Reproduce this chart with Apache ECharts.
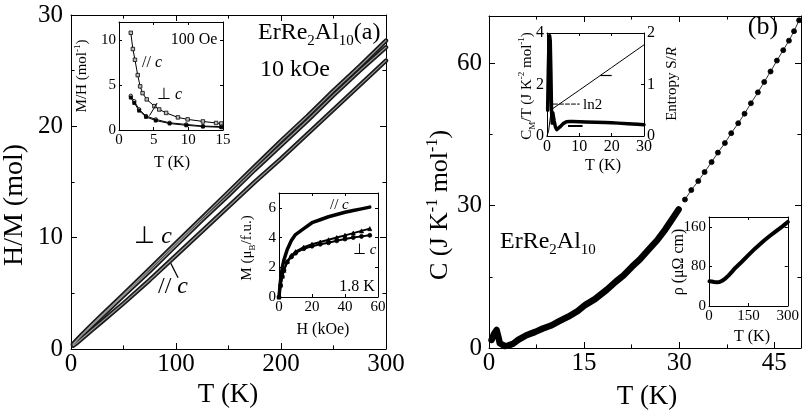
<!DOCTYPE html>
<html><head><meta charset="utf-8">
<script src="https://cdn.jsdelivr.net/npm/echarts@6/dist/echarts.min.js"></script>
<style>html,body{margin:0;padding:0;background:#fff}#c{width:802px;height:419px}</style>
</head><body><div id="c"></div>
<script>
// ---------- Panel (a) main: H/M vs T (10 kOe) ----------
const T_a = [2, 5, 10, 20, 30, 40, 50, 75, 100, 125, 150, 175, 200, 225, 250, 275, 300];
const HM_perp1 = [0.45, 0.75, 1.25, 2.2, 3.1, 4.0, 4.9, 7.2, 9.5, 11.8, 14.1, 16.4, 18.7, 20.9, 23.2, 25.4, 27.7];
const HM_perp2 = [0.42, 0.7, 1.2, 2.1, 3.0, 3.9, 4.8, 7.0, 9.3, 11.6, 13.8, 16.1, 18.3, 20.5, 22.8, 25.0, 27.1];
const HM_par   = [0.3, 0.5, 0.9, 1.7, 2.5, 3.3, 4.1, 6.2, 8.4, 10.6, 12.8, 15.0, 17.1, 19.3, 21.5, 23.7, 25.9];
// ---------- Inset a1: M/H vs T (100 Oe) ----------
const T_a1_par = [1.7, 2.0, 2.3, 2.7, 3.05, 3.4, 4.0, 5.1, 5.8, 6.8, 8.5, 9.9, 12.1, 14.0, 14.75];
const MH_par   = [10.8, 9.0, 7.8, 6.1, 4.85, 4.1, 3.4, 2.65, 2.28, 1.9, 1.4, 1.18, 0.95, 0.78, 0.72];
const T_a1_perp = [1.7, 2.2, 2.9, 3.9, 5.3, 7.3, 9.7, 12.1, 14.75];
const MH_perp1 = [3.8, 3.2, 2.3, 1.55, 1.18, 0.8, 0.62, 0.44, 0.37];
const MH_perp2 = [3.6, 3.0, 2.15, 1.45, 1.05, 0.72, 0.52, 0.38, 0.3];
// ---------- Inset a2: M vs H (1.8 K) ----------
const H_a2 = [0, 1, 2, 3, 5, 7.5, 10, 15, 20, 25, 30, 35, 40, 45, 50, 55];
const M_par   = [0, 1.2, 2.0, 2.5, 3.2, 3.8, 4.2, 4.6, 5.0, 5.2, 5.4, 5.55, 5.7, 5.82, 5.93, 6.05];
const M_perpA = [0, 0.8, 1.4, 1.8, 2.4, 2.8, 3.05, 3.35, 3.55, 3.7, 3.85, 4.0, 4.15, 4.3, 4.45, 4.6];
const M_perpB = [0, 0.8, 1.4, 1.8, 2.35, 2.7, 2.95, 3.25, 3.42, 3.55, 3.65, 3.78, 3.9, 4.0, 4.08, 4.15];
// ---------- Panel (b) main: C vs T ----------
const T_b_dense = [0.4, 0.8, 1.2, 1.5, 1.7, 2.0, 2.5, 3.0, 3.8, 4.6, 5.9, 7.3, 8.5, 9.9, 11, 12.5, 14, 15.2, 16.7, 18.6, 20, 21.2, 22.6, 23.8, 25.2, 26.5, 27.8, 28.6, 29.9];
const C_b_dense = [1.7, 3.0, 3.8, 2.2, 1.0, 0.6, 0.4, 0.5, 0.9, 1.7, 2.7, 3.4, 4.1, 4.8, 5.6, 6.6, 7.8, 9.1, 10.3, 12.3, 14.0, 15.3, 17.2, 18.7, 20.8, 22.7, 25.0, 26.6, 29.2];
const T_b_dots = [30.9, 31.9, 33.0, 34.0, 35.1, 36.1, 37.2, 38.2, 39.3, 40.3, 41.3, 42.4, 43.4, 44.4, 45.4, 46.4, 47.3, 48.1, 48.9];
const C_b_dots = [31.3, 33.3, 35.2, 37.1, 39.2, 41.2, 43.2, 45.3, 47.4, 49.4, 51.6, 53.9, 56.1, 58.3, 60.6, 62.8, 64.8, 66.8, 69.1];
// ---------- Inset b1: C_M/T and entropy ----------
const T_b1 = [0.2, 0.4, 0.6, 0.8, 1.0, 1.2, 1.4, 1.6, 1.8, 2.2, 2.6, 3.0, 3.5, 4, 5, 6, 7, 8, 10, 12, 15, 18, 20, 22, 25, 28, 30];
const CmT  = [1.0, 2.5, 3.6, 3.9, 3.7, 2.5, 1.0, 0.5, 0.9, 0.6, 0.35, 0.25, 0.28, 0.35, 0.48, 0.55, 0.56, 0.56, 0.55, 0.54, 0.53, 0.52, 0.51, 0.5, 0.48, 0.46, 0.44];
const T_S  = [0, 0.5, 1.0, 1.5, 10, 20, 30];
const S_R  = [0, 0.1, 0.35, 0.52, 0.89, 1.33, 1.77];
const T_ln2 = [2, 10];
const S_ln2 = [0.62, 0.62];
// ---------- Inset b2: resistivity ----------
const T_rho = [2, 10, 20, 30, 40, 50, 63, 75, 87, 100, 124, 150, 175, 209, 230, 257, 280, 300];
const RHO   = [50, 49.5, 48.5, 48, 48.5, 51, 56, 62, 69, 77, 89, 103, 116, 132, 141, 152, 161, 170];

const F = '"Liberation Serif","Times New Roman",serif';
const zip = (a, b) => a.map((v, i) => [v, b[i]]);

const grids = [
  {left: 71, top: 15, width: 315, height: 334},
  {left: 119, top: 22, width: 104, height: 108},
  {left: 279, top: 193, width: 99, height: 104},
  {left: 489, top: 16, width: 312, height: 332},
  {left: 547, top: 33, width: 97, height: 103},
  {left: 709, top: 217, width: 83, height: 89}
];
const xAxes = [], yAxes = [];
function ax(gi, pos, r, o, showLabel, margin) {
  return {gridIndex: gi, type: 'value', position: pos, min: r.min, max: r.max, interval: r.interval,
    axisLine: {show: true, onZero: false, lineStyle: {color: '#000', width: 1}},
    axisTick: {show: true, inside: true, length: o.tick, lineStyle: {color: '#000', width: 1}},
    minorTick: {show: !!r.minor, splitNumber: 2, length: o.tick * 0.6, lineStyle: {color: '#000', width: 1}},
    splitLine: {show: false}, minorSplitLine: {show: false},
    axisLabel: {show: showLabel, fontFamily: F, fontSize: o.font, color: '#000', margin: margin,
      showMaxLabel: !r.hideMax, showMinLabel: true},
    axisPointer: {show: false}};
}
function addGrid(gi, xr, yr, o, yr2) {
  xAxes.push(ax(gi, 'bottom', xr, o, true, o.xm));
  xAxes.push(ax(gi, 'top', xr, o, false, 0));
  yAxes.push(ax(gi, 'left', yr, o, true, o.ym));
  yAxes.push(ax(gi, 'right', yr2 || yr, o, !!yr2, o.ym));
}
addGrid(0, {min: 0, max: 300, interval: 100, minor: true}, {min: 0, max: 30, interval: 10, minor: true}, {tick: 6, font: 25, xm: 3, ym: 8});
addGrid(1, {min: 0, max: 15, interval: 5}, {min: 0, max: 12, interval: 5, hideMax: true}, {tick: 3, font: 15, xm: 3, ym: 3});
addGrid(2, {min: 0, max: 60, interval: 20}, {min: 0, max: 7, interval: 2, hideMax: true}, {tick: 3, font: 15, xm: 3, ym: 3});
addGrid(3, {min: 0, max: 49.2, interval: 15, minor: true, hideMax: true}, {min: 0, max: 70, interval: 30, minor: true, hideMax: true}, {tick: 6, font: 25, xm: 3, ym: 7});
addGrid(4, {min: 0, max: 30, interval: 10}, {min: 0, max: 4, interval: 2}, {tick: 3, font: 16, xm: 3, ym: 3}, {min: 0, max: 2, interval: 1});
addGrid(5, {min: 0, max: 300, interval: 150}, {min: 0, max: 180, interval: 80, hideMax: true}, {tick: 3, font: 15, xm: 3, ym: 3});

function line(gi, data, opts) {
  return Object.assign({type: 'line', xAxisIndex: 2 * gi, yAxisIndex: 2 * gi + (opts.right ? 1 : 0), data,
    symbol: opts.symbol || 'none', symbolSize: opts.size || 4, showSymbol: !!opts.symbol,
    itemStyle: {color: opts.fill || '#000', borderColor: '#000', borderWidth: opts.bw || 0.8},
    lineStyle: {color: opts.color || '#000', width: opts.width || 1, type: opts.dash ? 'dashed' : 'solid', cap: 'round', join: 'round'},
    silent: true, clip: true, z: opts.z || 2}, opts.extra || {});
}
const arrow = (a, b, w) => ({silent: true, symbol: ['none', 'arrow'], symbolSize: [0, 7], label: {show: false},
  lineStyle: {color: '#000', width: w || 1, type: 'solid'}, data: [[{coord: a}, {coord: b}]], animation: false});

const series = [
  line(0, zip(T_a, HM_perp1), {width: 4.5, color: '#1a1a1a'}),
  line(0, zip(T_a, HM_perp2), {width: 4.5, color: '#1a1a1a'}),
  line(0, zip(T_a, HM_par), {width: 4.5, color: '#1a1a1a'}),
  line(0, zip(T_a, HM_perp1), {width: 1.2, color: '#9a9a9a', z: 3}),
  line(0, zip(T_a, HM_perp2), {width: 1.2, color: '#9a9a9a', z: 3}),
  line(0, zip(T_a, HM_par), {width: 1.2, color: '#9a9a9a', z: 3, extra: {markLine: arrow([102, 6.4], [95, 7.7], 1.3)}}),

  line(1, zip(T_a1_par, MH_par), {symbol: 'rect', size: 3.5, fill: '#bbb'}),
  line(1, zip(T_a1_perp, MH_perp1), {symbol: 'circle', size: 3.5, fill: '#bbb', extra: {markLine: arrow([5.5, 3.0], [4.4, 1.6], 1)}}),
  line(1, zip(T_a1_perp, MH_perp2), {symbol: 'rect', size: 3}),

  line(2, zip(H_a2, M_par), {width: 3.5}),
  line(2, zip(H_a2, M_perpA), {width: 2, symbol: 'triangle', size: 4}),
  line(2, zip(H_a2, M_perpB), {width: 2, symbol: 'circle', size: 4}),

  line(3, zip(T_b_dense, C_b_dense), {width: 6.5}),
  line(3, zip(T_b_dots, C_b_dots), {width: 1, color: '#333', symbol: 'circle', size: 5}),

  line(4, zip(T_b1, CmT), {width: 3.5, extra: {markLine: arrow([11, 0.39], [6.5, 0.39], 2)}}),
  line(4, zip(T_S, S_R), {width: 1, right: true, extra: {markLine: arrow([16.5, 1.17], [20, 1.17], 1.2)}}),
  line(4, zip(T_ln2, S_ln2), {width: 1, right: true, dash: true}),

  line(5, zip(T_rho, RHO), {width: 4})
];

function txt(x, y, text, s, o) {
  o = o || {};
  const al = o.align || 'center';
  return {type: 'text', x: x, y: y, rotation: o.rot || 0, z: 100, silent: true,
    style: {text: text, fill: '#000', fontSize: s, fontFamily: F, align: al, textAlign: al,
      verticalAlign: 'middle', textVerticalAlign: 'middle', lineHeight: s,
      rich: {
        sub: {fontSize: Math.round(s * 0.62), fontFamily: F, fill: '#000', verticalAlign: 'bottom', lineHeight: Math.round(s * 1.35)},
        sup: {fontSize: Math.round(s * 0.62), fontFamily: F, fill: '#000', verticalAlign: 'top', lineHeight: Math.round(s * 1.15)},
        i: {fontSize: s, fontFamily: F, fill: '#000', fontStyle: 'italic', lineHeight: s}
      }}};
}
const R = Math.PI / 2;
const graphics = [
  txt(15, 205, 'H/M (mol)', 28, {rot: R}),
  txt(228, 395, 'T (K)', 27),
  txt(440, 205, 'C (J K{sup|-1} mol{sup|-1})', 26, {rot: R}),
  txt(647, 397, 'T (K)', 27),
  txt(258, 33, 'ErRe{sub|2}Al{sub|10}(a)', 24, {align: 'left'}),
  txt(260, 70, '10 kOe', 24, {align: 'left'}),
  txt(153, 237, '\u22A5 {i|c}', 24),
  txt(173, 287, '// {i|c}', 24),
  txt(500, 242, 'ErRe{sub|2}Al{sub|10}', 24, {align: 'left'}),
  txt(763, 27, '(b)', 26),
  txt(194, 40, '100 Oe', 16),
  txt(142, 63, '// {i|c}', 16, {align: 'left'}),
  txt(157, 95, '\u22A5 {i|c}', 16, {align: 'left'}),
  txt(82, 76, 'M/H (mol{sup|-1})', 15, {rot: R}),
  txt(172, 163, 'T (K)', 16),
  txt(330, 205, '// {i|c}', 15, {align: 'left'}),
  txt(353, 250, '\u22A5 {i|c}', 15, {align: 'left'}),
  txt(357, 287, '1.8 K', 16),
  txt(247, 248, 'M (\u03BC{sub|B}/f.u.)', 15, {rot: R}),
  txt(323, 330, 'H (kOe)', 16),
  txt(527, 86, 'C{sub|M}/T (J K{sup|-2} mol{sup|-1})', 15, {rot: R}),
  txt(672, 84, 'Entropy S/{i|R}', 15, {rot: R}),
  txt(603, 166, 'T (K)', 16),
  txt(583, 105, 'ln2', 15, {align: 'left'}),
  txt(679, 262, '\u03C1 (\u03BC\u03A9 cm)', 16, {rot: R}),
  txt(752, 337, 'T (K)', 16)
];

const chart = echarts.init(document.getElementById('c'), null, {renderer: 'canvas'});
chart.setOption({
  animation: false,
  backgroundColor: '#fff',
  grid: grids.map(g => Object.assign({containLabel: false, show: false}, g)),
  xAxis: xAxes,
  yAxis: yAxes,
  series: series,
  graphic: graphics
});
</script></body></html>
